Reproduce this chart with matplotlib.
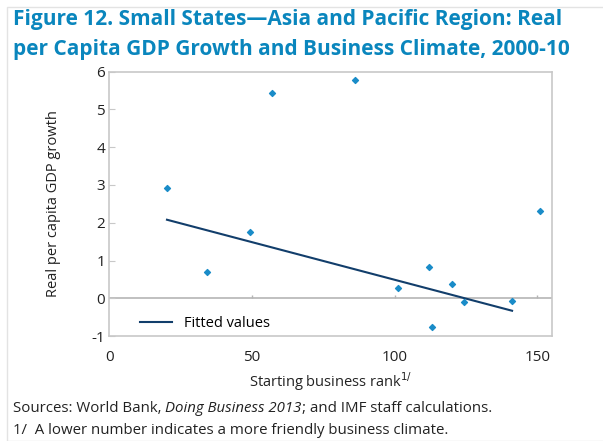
import matplotlib.pyplot as plt
from matplotlib.patches import Rectangle

# business rank vs real per capita GDP growth
rank = [20.2, 34.2, 49.2, 57.1, 86.2, 101.2, 112.0, 113.2, 120.2, 124.1, 141.1, 150.9]
growth = [2.93, 0.69, 1.76, 5.44, 5.77, 0.26, 0.83, -0.75, 0.39, -0.10, -0.07, 2.32]

# fitted line end points
fit_x = [20.2, 141.1]
fit_y = [2.08, -0.33]

xticks = [0, 50, 100, 150]
yticks = [-1, 0, 1, 2, 3, 4, 5, 6]

plt.rcParams['font.family'] = ['Open Sans', 'DejaVu Sans']
plt.rcParams['axes.unicode_minus'] = False

fig = plt.figure(figsize=(6.03, 4.41), dpi=100)
ax = fig.add_axes([0.1813, 0.238, 0.7337, 0.5994])

# light frame around the whole figure
fig.patches.append(Rectangle((7 / 603, 0), 1, 1 - 7 / 441, transform=fig.transFigure,
                             fill=False, edgecolor='#e3e3e3', linewidth=1))

ax.axhline(0, color='#b5b5b5', linewidth=1.2, zorder=1)
ax.vlines(xticks[1:], 0, 0.1, color='#b5b5b5', linewidth=1, zorder=1)

ax.plot(fit_x, fit_y, color='#123e6b', linewidth=1.5, label='Fitted values', zorder=2)
ax.scatter(rank, growth, marker='D', s=9, color='#1a8cc8', zorder=3)

ax.set_xlim(0, 155)
ax.set_ylim(-1, 6)
ax.set_xticks(xticks)
ax.set_yticks(yticks)
ax.tick_params(axis='x', length=0, pad=10, labelsize=11, labelcolor='#222222')
ax.tick_params(axis='y', direction='in', length=4, color='#c8c8c8', pad=3,
               labelsize=11, labelcolor='#222222')
for s in ax.spines.values():
    s.set_color('#c8c8c8')
    s.set_linewidth(1.2)

ax.set_xlabel('Starting business rank$^{1/}$', fontsize=10.5, color='#222222', labelpad=4)
ax.set_ylabel('Real per capita GDP growth', fontsize=10.5, color='#222222', labelpad=22)

ax.legend(loc='lower left', frameon=False, fontsize=10.5, handlelength=2.2,
          bbox_to_anchor=(0.04, -0.03))

fig.text(13 / 603, 1 - 20 / 441, 'Figure 12. Small States\u2014Asia and Pacific Region: Real',
         fontsize=15, fontweight='bold', color='#0a86bd', va='center')
fig.text(13 / 603, 1 - 49 / 441, 'per Capita GDP Growth and Business Climate, 2000-10',
         fontsize=15, fontweight='bold', color='#0a86bd', va='center')

# sources line, with the italic report title in the middle
fig.canvas.draw()
r = fig.canvas.get_renderer()
x = 13 / 603
y = 1 - 408 / 441
for piece, style in [('Sources: World Bank, ', 'normal'), ('Doing Business 2013', 'italic'),
                     ('; and IMF staff calculations.', 'normal')]:
    t = fig.text(x, y, piece, fontsize=10.8, fontstyle=style, color='#222222', va='center')
    bb = t.get_window_extent(renderer=r)
    x = fig.transFigure.inverted().transform((bb.x1, bb.y0))[0]

fig.text(13 / 603, 1 - 430 / 441, '1/  A lower number indicates a more friendly business climate.',
         fontsize=10.8, color='#222222', va='center')

fig.savefig('out.png', dpi=100)
